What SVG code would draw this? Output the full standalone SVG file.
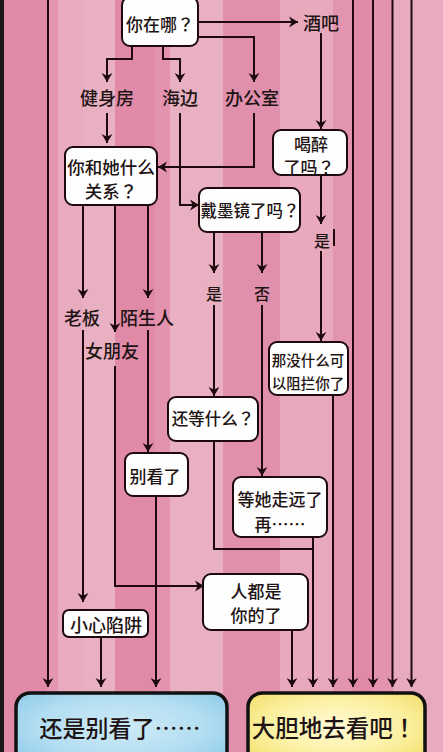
<svg xmlns="http://www.w3.org/2000/svg" width="443" height="752" viewBox="0 0 443 752">
<defs>
<marker id="ah" viewBox="0 0 10 12" refX="10" refY="6" markerWidth="9" markerHeight="12" markerUnits="userSpaceOnUse" orient="auto">
<path d="M0,0 L10,6 L0,12 L3,6 z" fill="#1e0a0e"/>
</marker>
<radialGradient id="gBlue" cx="50%" cy="45%" r="65%">
<stop offset="0" stop-color="#cfeaf6"/>
<stop offset="0.6" stop-color="#b3def2"/>
<stop offset="1" stop-color="#8fcbe8"/>
</radialGradient>
<radialGradient id="gYellow" cx="50%" cy="45%" r="65%">
<stop offset="0" stop-color="#fffbd6"/>
<stop offset="0.6" stop-color="#fbf0a0"/>
<stop offset="1" stop-color="#f3df6c"/>
</radialGradient>
</defs>
<style>
.ln{fill:none;stroke:#1e0a0e;stroke-width:2}
.ar{marker-end:url(#ah)}
.box{fill:#fefefe;stroke:#1e0a0e;stroke-width:2}
.t{font-family:"Noto Sans CJK SC","Noto Sans",sans-serif;font-weight:500;fill:#1e1414;text-anchor:middle;dominant-baseline:central}
.p{font-family:"Noto Sans CJK TC","Noto Sans CJK SC",sans-serif}
.big{stroke:#111;stroke-width:3.5}
</style>
<g id="background">
<rect x="0" y="0" width="443" height="752" fill="#e8aabe"/>
<rect x="0" y="0" width="4" height="752" fill="#1c1618"/>
<rect x="4" y="0" width="43" height="752" fill="#e18aa8"/>
<rect x="47" y="0" width="11" height="752" fill="#e597b2"/>
<rect x="58" y="0" width="25" height="752" fill="#e8abbf"/>
<rect x="83" y="0" width="32" height="752" fill="#e9b0c2"/>
<rect x="115" y="0" width="40" height="752" fill="#e08aa8"/>
<rect x="155" y="0" width="15" height="752" fill="#e393b0"/>
<rect x="170" y="0" width="53" height="752" fill="#e8b0c0"/>
<rect x="223" y="0" width="57" height="752" fill="#e08fac"/>
<rect x="280" y="0" width="53" height="752" fill="#e8a9bd"/>
<rect x="333" y="0" width="20" height="752" fill="#e395b0"/>
<rect x="353" y="0" width="20" height="752" fill="#e08aa8"/>
<rect x="373" y="0" width="20" height="752" fill="#e393b0"/>
<rect x="393" y="0" width="50" height="752" fill="#e8aabe"/>
</g>
<g id="connectors">
<path class="ln ar" d="M48,0 V687"/>
<path class="ln ar" d="M198,22 H298"/>
<path class="ln ar" d="M198,37 H254 V82"/>
<path class="ln ar" d="M163,46 V59 H180 V82"/>
<path class="ln ar" d="M132,46 V59 H107 V82"/>
<path class="ln ar" d="M107,113 V143"/>
<path class="ln ar" d="M254,113 V167 H158"/>
<path class="ln ar" d="M321,33 V129"/>
<path class="ln ar" d="M321,175 V224"/>
<path class="ln" d="M334,229 V246" stroke-width="1.2"/>
<path class="ln ar" d="M321,251 V341"/>
<path class="ln ar" d="M180,113 V205 H199"/>
<path class="ln ar" d="M214,232 V273"/>
<path class="ln ar" d="M262,232 V273"/>
<path class="ln ar" d="M214,305 V396"/>
<path class="ln ar" d="M262,305 V476"/>
<path class="ln" d="M214,441 V549 H313"/>
<path class="ln ar" d="M313,537 V687"/>
<path class="ln ar" d="M333,395 V687"/>
<path class="ln ar" d="M353,0 V687"/>
<path class="ln ar" d="M373,0 V687"/>
<path class="ln ar" d="M392.5,0 V687"/>
<path class="ln ar" d="M411.5,0 V687"/>
<path class="ln ar" d="M292,630 V687"/>
<path class="ln ar" d="M83,205 V298"/>
<path class="ln ar" d="M115,205 V332"/>
<path class="ln ar" d="M148,205 V298"/>
<path class="ln ar" d="M83,330 V602"/>
<path class="ln ar" d="M115,366 V586 H204"/>
<path class="ln ar" d="M148,330 V452"/>
<path class="ln ar" d="M156,496 V687"/>
<path class="ln ar" d="M101,637 V687"/>
</g>
<g id="labels">
<text class="t" x="107" y="97" font-size="18">健身房</text>
<text class="t" x="180" y="97" font-size="18">海边</text>
<text class="t" x="252" y="97" font-size="18">办公室</text>
<text class="t" x="321" y="22" font-size="18">酒吧</text>
<text class="t" x="322" y="240" font-size="16">是</text>
<text class="t" x="214" y="293" font-size="16">是</text>
<text class="t" x="262" y="293" font-size="16">否</text>
<text class="t" x="82" y="317" font-size="18">老板</text>
<text class="t" x="147" y="317" font-size="18">陌生人</text>
<text class="t" x="112" y="350" font-size="18">女朋友</text>
</g>
<g id="node-where">
<rect class="box" x="122" y="-3" width="76" height="49" rx="8"/>
<text class="t" x="160" y="23" font-size="17">你在哪<tspan class="p">？</tspan></text>
</g>
<g id="node-relation">
<rect class="box" x="65" y="147" width="92" height="58" rx="8"/>
<text class="t" x="111" y="166" font-size="17.5">你和她什么</text>
<text class="t" x="111" y="190" font-size="17.5">关系<tspan class="p">？</tspan></text>
</g>
<g id="node-drunk">
<rect class="box" x="273" y="130" width="74" height="45" rx="8"/>
<text class="t" x="311" y="143" font-size="17">喝醉</text>
<text class="t" x="309" y="166" font-size="17">了吗<tspan class="p">？</tspan></text>
</g>
<g id="node-sunglasses">
<rect class="box" x="199" y="188" width="101" height="44" rx="8"/>
<text class="t" x="250" y="210" font-size="16.5">戴墨镜了吗<tspan class="p">？</tspan></text>
</g>
<g id="node-nothing">
<rect class="box" x="269" y="342" width="79" height="53" rx="8"/>
<text class="t" x="308" y="359" font-size="14.5">那没什么可</text>
<text class="t" x="308" y="382" font-size="14.5">以阻拦你了</text>
</g>
<g id="node-wait">
<rect class="box" x="168" y="397" width="90" height="44" rx="8"/>
<text class="t" x="213" y="418" font-size="16.5">还等什么<tspan class="p">？</tspan></text>
</g>
<g id="node-later">
<rect class="box" x="233" y="477" width="94" height="60" rx="8"/>
<text class="t" x="280" y="498" font-size="17">等她走远了</text>
<text class="t" x="280" y="523" font-size="17">再……</text>
</g>
<g id="node-dontlook">
<rect class="box" x="125" y="453" width="63" height="43" rx="8"/>
<text class="t" x="155" y="475" font-size="17">别看了</text>
</g>
<g id="node-trap">
<rect class="box" x="63" y="610" width="85" height="27" rx="6"/>
<text class="t" x="106" y="624" font-size="18">小心陷阱</text>
</g>
<g id="node-yours">
<rect class="box" x="203" y="574" width="105" height="56" rx="8"/>
<text class="t" x="256" y="590" font-size="17">人都是</text>
<text class="t" x="256" y="614" font-size="17">你的了</text>
</g>
<g id="node-no">
<rect class="big" x="16" y="693" width="211" height="75" rx="14" fill="url(#gBlue)"/>
<text class="t" x="120" y="727" font-size="23" fill="#1a2230">还是别看了……</text>
</g>
<g id="node-yes">
<rect class="big" x="248" y="693" width="177" height="75" rx="14" fill="url(#gYellow)"/>
<text class="t" x="334" y="727" font-size="23.5" fill="#1a1a12">大胆地去看吧<tspan class="p">！</tspan></text>
</g>
</svg>
